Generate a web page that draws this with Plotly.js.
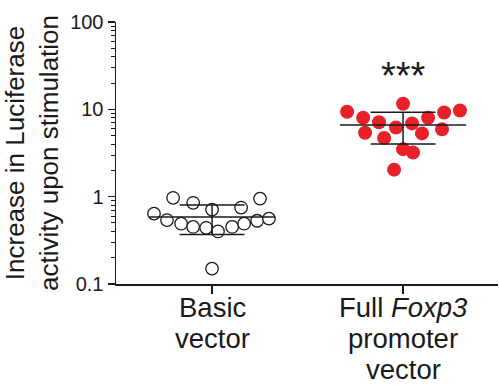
<!DOCTYPE html>
<html>
<head>
<meta charset="utf-8">
<script src="https://cdn.plot.ly/plotly-3.0.1.min.js"></script>
<style>html,body{margin:0;padding:0;background:#fff;}#chart{width:499px;height:385px;}</style>
</head>
<body>
<div id="chart"></div>
<script>
// Categories and tick labels (one entry per text line under each category)
const categories = [0, 1];
const tickLabelLines = [
  ["Basic", "vector"],
  ["Full <i>Foxp3</i>", "promoter", "vector"]
];

// Fold increase values
const basicValues = [0.97, 0.85, 0.95, 0.71, 0.75, 0.64, 0.54, 0.49, 0.45, 0.44, 0.40, 0.45, 0.49, 0.53, 0.56, 0.15];
const foxp3Values = [11.6, 9.4, 9.7, 9.2, 8.0, 8.0, 7.1, 6.9, 6.2, 5.4, 5.3, 5.9, 4.7, 3.5, 3.2, 2.04];

// Horizontal scatter (swarm) offsets, in category units
const basicSwarm = [-0.204, -0.099, 0.251, 0.0, 0.152, -0.304, -0.236, -0.162, -0.099, -0.031, 0.031, 0.105, 0.168, 0.236, 0.298, 0.0];
const foxp3Swarm = [0.0, -0.293, 0.298, 0.215, -0.209, 0.131, -0.126, 0.047, -0.037, -0.199, 0.099, 0.204, -0.099, 0.0, 0.052, -0.047];

const yTickVals = [0.1, 1, 10, 100];
const yTickText = ['0.1', '1', '10', '100'];
const significance = "***";

function meanSd(a) {
  const m = a.reduce((s, v) => s + v, 0) / a.length;
  const sd = Math.sqrt(a.reduce((s, v) => s + (v - m) * (v - m), 0) / (a.length - 1));
  return [m, sd];
}

function summaryTrace(c, vals) {
  const [m, sd] = meanSd(vals);
  const hw = 0.33, cw = 0.17;
  return {
    type: 'scatter', mode: 'lines', hoverinfo: 'skip', showlegend: false,
    x: [c - hw, c + hw, null, c - cw, c + cw, null, c - cw, c + cw, null, c, c],
    y: [m, m, null, m + sd, m + sd, null, m - sd, m - sd, null, m - sd, m + sd],
    line: {color: '#1a1a1a', width: 1.5}
  };
}

const traces = [
  {
    type: 'scatter', mode: 'markers', showlegend: false,
    x: basicSwarm.map(d => categories[0] + d), y: basicValues,
    marker: {symbol: 'circle', size: 12.5, color: '#ffffff', line: {color: '#1a1a1a', width: 1.3}}
  },
  {
    type: 'scatter', mode: 'markers', showlegend: false,
    x: foxp3Swarm.map(d => categories[1] + d), y: foxp3Values,
    marker: {symbol: 'circle', size: 14, color: '#e8202a', line: {width: 0}}
  },
  summaryTrace(categories[0], basicValues),
  summaryTrace(categories[1], foxp3Values)
];

const font = 'Liberation Sans, Arial, Helvetica, sans-serif';
const labelSize = 27.5;
const lineStep = 31;

const annotations = [];
tickLabelLines.forEach((lines, i) => {
  lines.forEach((t, j) => {
    annotations.push({
      x: categories[i], y: 0, xref: 'x', yref: 'paper',
      text: t, showarrow: false, xanchor: 'center', yanchor: 'top',
      yshift: -7 - j * lineStep, borderpad: 0,
      font: {size: labelSize, family: font, color: '#1a1a1a'}
    });
  });
});
annotations.push({
  x: categories[1], y: Math.log10(24), xref: 'x', yref: 'y',
  text: significance, showarrow: false,
  font: {size: 38, family: font, color: '#1a1a1a'},
  xanchor: 'center', yanchor: 'middle'
});

const layout = {
  width: 499, height: 385,
  margin: {l: 116, r: 1, t: 22, b: 101, pad: 0},
  paper_bgcolor: '#ffffff', plot_bgcolor: '#ffffff',
  font: {family: font, color: '#1a1a1a'},
  showlegend: false,
  xaxis: {
    range: [-0.503, 1.497],
    tickmode: 'array', tickvals: categories, showticklabels: false,
    ticks: 'outside', ticklen: 8, tickwidth: 1.3, tickcolor: '#1a1a1a',
    showline: true, linecolor: '#1a1a1a', linewidth: 1.5,
    showgrid: false, zeroline: false
  },
  yaxis: {
    type: 'log', range: [-1, 2],
    tickmode: 'array', tickvals: yTickVals, ticktext: yTickText,
    ticks: 'outside', ticklen: 7, tickwidth: 1.3, tickcolor: '#1a1a1a',
    minor: {
      tickmode: 'array',
      tickvals: [0.2,0.3,0.4,0.5,0.6,0.7,0.8,0.9,2,3,4,5,6,7,8,9,20,30,40,50,60,70,80,90],
      ticks: 'outside', ticklen: 4, tickwidth: 1, tickcolor: '#1a1a1a', showgrid: false
    },
    showline: true, linecolor: '#1a1a1a', linewidth: 1.5,
    showgrid: false, zeroline: false,
    tickfont: {size: 20, family: font, color: '#1a1a1a'},
    title: {text: 'Increase in Luciferase<br>activity upon stimulation', font: {size: 26, family: font, color: '#1a1a1a'}, standoff: 4}
  },
  annotations: annotations
};

Plotly.newPlot('chart', traces, layout, {displayModeBar: false, staticPlot: true});
</script>
</body>
</html>
